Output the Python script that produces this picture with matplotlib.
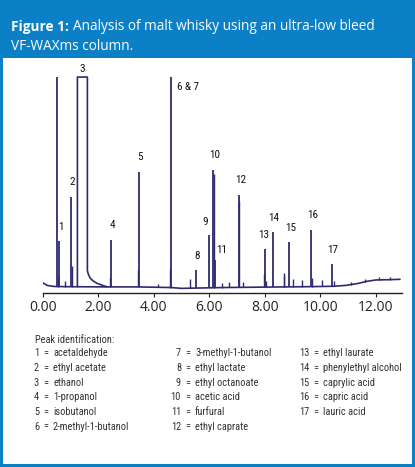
import matplotlib
matplotlib.use("Agg")
import matplotlib.pyplot as plt
from matplotlib import font_manager as fm
import numpy as np

# chromatogram, response in % of full scale, time in minutes
base_t = [0.0, 0.15, 0.4, 0.9, 2.2, 3.4, 4.6, 5.0, 6.5, 8.0, 9.5, 10.5, 10.9, 11.3, 11.7, 12.0, 12.4, 12.86]
base_y = [2.2, 1.0, 0.5, 0.4, 0.3, 0.3, 0.0, -0.4, 0.0, 0.2, 0.4, 0.6, 1.0, 1.8, 3.0, 3.6, 3.7, 3.9]

# ethanol peak saturates the detector (flat top)
eth_t = [1.24, 1.24, 1.60, 1.60, 1.63, 1.70, 1.80, 1.95, 2.15, 2.30]
eth_y = [0.5, 100, 100, 8.0, 6.5, 4.5, 3.2, 2.0, 1.0, 0.4]

peak_t = [0.49, 0.59, 1.02, 2.44, 3.46, 4.62, 5.51, 5.99, 6.13, 6.20, 7.07, 8.01, 8.30, 8.88, 9.66, 10.40]
peak_h = [150, 22, 43, 22.5, 55, 150, 8.5, 25, 56, 13, 44, 18.5, 26.5, 21.5, 27.5, 11]
peak_lab = ["", "1", "2", "4", "5", "6 & 7", "8", "9", "10", "11", "12", "13", "14", "15", "16", "17"]

minor_t = [0.53, 0.79, 1.05, 2.41, 3.44, 4.15, 4.58, 5.31, 6.15, 6.45, 6.7, 7.05, 7.2, 7.95,
           8.05, 8.68, 8.70, 9.0, 9.32, 9.70, 10.05, 10.5, 11.1, 11.6, 12.1, 12.5]
minor_h = [5, 2.8, 10, 4, 8, 1.5, 9, 4.5, 54, 2, 2.5, 41, 2.5, 6, 3, 6.5, 5, 3.5, 3, 4, 3, 2.5,
           1.2, 1.5, 1.5, 1.3]

legend_num = [str(i) for i in range(1, 18)]
legend_name = ["acetaldehyde", "ethyl acetate", "ethanol", "1-propanol", "isobutanol",
               "2-methyl-1-butanol", "3-methyl-1-butanol", "ethyl lactate", "ethyl octanoate",
               "acetic acid", "furfural", "ethyl caprate", "ethyl laurate", "phenylethyl alcohol",
               "caprylic acid", "capric acid", "lauric acid"]

blue = "#0b80c6"
navy = "#2d2b6e"
txt = "#333333"

# pick the narrowest installed sans family
installed = {f.name for f in fm.fontManager.ttflist}
narrow = "Roboto"
for cand in ["Roboto Condensed", "Liberation Sans Narrow", "Open Sans Condensed", "Noto Sans Display"]:
    if cand in installed:
        narrow = cand
        break

W, H = 415, 467
fig = plt.figure(figsize=(W / 100, H / 100), dpi=100, facecolor=blue)
renderer = fig.canvas.get_renderer()

# legend font size: fit "2-methyl-1-butanol" to the width in the original (~75 px)
probe = fig.text(0, 0, "2-methyl-1-butanol", fontsize=10, family=narrow)
w10 = probe.get_window_extent(renderer).width
probe.remove()
leg_fs = min(8.2, 10 * 76 / w10)

# white panel
panel = fig.add_axes([3 / W, 1 - 464 / H, (412 - 3) / W, (464 - 58) / H])
panel.set_facecolor("white")
panel.set_xticks([])
panel.set_yticks([])
for s in panel.spines.values():
    s.set_visible(False)

# title
fig.text(11 / W, 1 - 27 / H, "Figure 1:", color="white", fontsize=9.8, fontweight="bold",
         family="Open Sans", va="center")
fig.text(73 / W, 1 - 27 / H, "Analysis of malt whisky using an ultra-low bleed", color="white",
         fontsize=9.8, family="Open Sans", va="center")
fig.text(11 / W, 1 - 47 / H, "VF-WAXms column.", color="white", fontsize=9.8,
         family="Open Sans", va="center")

ax = fig.add_axes([43 / W, 1 - 293 / H, (402 - 43) / W, (293 - 76) / H])
ax.set_xlim(0, 12.94)
ax.set_ylim(-2.6, 100.5)
ax.patch.set_alpha(0)

ax.plot(base_t, base_y, color=navy, lw=1.2)
ax.plot(eth_t, eth_y, color=navy, lw=1.2)
bl = np.interp(peak_t, base_t, base_y)
ax.vlines(peak_t, bl, np.minimum(peak_h, 100), color=navy, lw=1.3)
bm = np.interp(minor_t, base_t, base_y)
ax.vlines(minor_t, bm, bm + np.array(minor_h), color=navy, lw=1.0)

offsets = {"6 & 7": (12, -7), "9": (-3, 6), "11": (5, 4), "8": (1, 6), "13": (-1, 6), "14": (0, 6)}
for t, h, lab in zip(peak_t, peak_h, peak_lab):
    if not lab:
        continue
    dx, dy = offsets.get(lab, (1, 7))
    ax.annotate(lab, (t, min(h, 100)), xytext=(dx, dy), textcoords="offset points",
                ha="center", va="bottom" if lab != "6 & 7" else "center",
                fontsize=8, family=narrow, color="#111111")
ax.annotate("3", ((eth_t[1] + eth_t[2]) / 2, 100), xytext=(0, 2), textcoords="offset points",
            ha="center", va="bottom", fontsize=8, family=narrow, color="#111111",
            annotation_clip=False)

for s in ["left", "top", "right"]:
    ax.spines[s].set_visible(False)
ax.spines["bottom"].set_color("#222222")
ax.spines["bottom"].set_linewidth(1.0)
ax.set_yticks([])
ax.set_xticks([0, 2, 4, 6, 8, 10, 12])
ax.set_xticklabels([f"{v:.2f}" for v in [0, 2, 4, 6, 8, 10, 12]])
ax.tick_params(axis="x", length=3, width=0.8, color="#222222", labelsize=10, pad=2,
               labelcolor="#222222")
for lab in ax.get_xticklabels():
    lab.set_family("Open Sans")

# peak identification
fig.text(35 / W, 1 - 340 / H, "Peak identification:", fontsize=leg_fs, family=narrow,
         color=txt, va="center")
col_x = [39, 181, 309]
row_y0, row_dy = 353.5, 14.6
for i, (n, name) in enumerate(zip(legend_num, legend_name)):
    c = 0 if i < 6 else (1 if i < 12 else 2)
    r = i - [0, 6, 12][c]
    y = 1 - (row_y0 + r * row_dy) / H
    fig.text(col_x[c] / W, y, n, fontsize=leg_fs, family=narrow, color=txt, ha="right", va="center")
    fig.text((col_x[c] + 4) / W, y, "=", fontsize=leg_fs, family=narrow, color=txt, va="center")
    fig.text((col_x[c] + 14) / W, y, name, fontsize=leg_fs, family=narrow, color=txt, va="center")

fig.savefig("out.png", dpi=100, facecolor=blue)
